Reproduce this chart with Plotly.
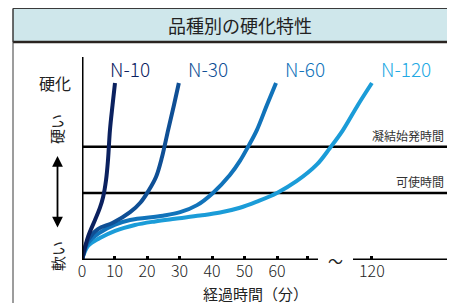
import plotly.graph_objects as go

# page window is 455x303; the browser body has an 8px margin, so the figure is 8px smaller
PAGE_W, PAGE_H, OFF = 455, 303, 8
W, H = PAGE_W - OFF, PAGE_H - OFF

# ---- data (x in axis units of the broken time axis; 120 min sits after the break) ----
n10_x = [0, 1.85, 4.0, 5.5, 6.5, 7.4, 8.0, 8.6, 9.4, 10.15]
n10_y = [0, 13, 22.6, 29.4, 35.6, 45.2, 56.5, 73.4, 87.6, 100]

n30_x = [0, 1.85, 4.9, 9.5, 14.8, 18.0, 20.6, 22.8, 24.6, 26.5, 28.3, 29.8]
n30_y = [0, 11.3, 17.5, 21.0, 27.0, 32.5, 39.5, 47.0, 58.0, 73.4, 87.6, 100]

n60_x = [0, 1.85, 5.5, 10.2, 14.8, 24.9, 30.2, 35.4, 40.3, 45.5, 48.6, 51.1, 53.8, 56.9, 59.7]
n60_y = [0, 9.6, 15.5, 20.0, 22.6, 25.0, 27.0, 31.0, 37.9, 48.0, 56.0, 64.0, 73.4, 87.6, 100]

n120_x = [0, 1.85, 5.5, 10.2, 16.3, 22.5, 28.6, 36.3, 42.5, 48.6, 53.8, 60.0, 66.0, 72.3, 76.3, 80.3, 84.9, 89.2]
n120_y = [0, 7.9, 12.4, 16.5, 19.8, 21.8, 23.3, 25.1, 26.8, 29.5, 33.0, 37.9, 44.5, 54.0, 63.3, 73.4, 87.6, 100]

series_names = ["N-10", "N-30", "N-60", "N-120"]
series_colors = ["#0b215f", "#0f4f95", "#1173ba", "#1b9cd8"]
label_colors = ["#0b215f", "#0f4f95", "#1173ba", "#22a9e4"]

tick_vals = [0, 10, 20, 30, 40, 50, 60, 69.5, 89.2]
tick_text = ["0", "10", "20", "30", "40", "50", "60", "", "120"]

pot_life = 37.9       # 可使時間
initial_set = 64.0    # 凝結始発時間

# ---- geometry helpers (page pixel coordinates) ----
X0_PX, X_SCALE = 82, 3.25     # px at 0, px per unit
Y0_PX, Y_SCALE = 260, 1.77
X_END_PX, Y_TOP_PX = 448, 57
x_max = (X_END_PX - X0_PX) / X_SCALE
y_max = (Y0_PX - Y_TOP_PX) / Y_SCALE
BREAK_L, BREAK_R = (318 - X0_PX) / X_SCALE, (353 - X0_PX) / X_SCALE
TILDE_X = (335 - X0_PX) / X_SCALE

def px(x):
    return (x - OFF) / W

def py(y):
    return 1 - (y - OFF) / H

fig = go.Figure()

for xs, ys, c in zip([n120_x, n60_x, n30_x, n10_x], [n120_y, n60_y, n30_y, n10_y], series_colors[::-1]):
    fig.add_trace(go.Scatter(x=xs, y=ys, mode="lines", line=dict(color=c, width=4, shape="spline", smoothing=1.0),
                             showlegend=False, hoverinfo="skip"))

shapes = []
# title bar
shapes.append(dict(type="rect", xref="paper", yref="paper", x0=px(13), x1=px(458), y0=py(42), y1=py(8.5),
                   fillcolor="#cfe7eb", line=dict(color="#3a3a3a", width=1), layer="below"))
shapes.append(dict(type="line", xref="paper", yref="paper", x0=px(13), x1=px(458), y0=py(42), y1=py(42),
                   line=dict(color="#2a2420", width=2.5)))
# left border
shapes.append(dict(type="line", xref="paper", yref="paper", x0=px(13), x1=px(13), y0=py(8.5), y1=0,
                   line=dict(color="#3a3a3a", width=1)))
# axes
shapes.append(dict(type="line", xref="x", yref="y", x0=0, x1=0, y0=0, y1=y_max, line=dict(color="black", width=3)))
shapes.append(dict(type="line", xref="x", yref="y", x0=-0.4, x1=BREAK_L, y0=0, y1=0, line=dict(color="black", width=3)))
shapes.append(dict(type="line", xref="x", yref="y", x0=BREAK_R, x1=x_max, y0=0, y1=0, line=dict(color="black", width=3)))
# reference lines
for lv in [pot_life, initial_set]:
    shapes.append(dict(type="line", xref="x", yref="y", x0=0, x1=x_max, y0=lv, y1=lv, line=dict(color="black", width=2.5),
                       layer="below"))

fig.update_layout(shapes=shapes)

jp = "Noto Sans CJK JP"
C = dict(xanchor="center", yanchor="middle", showarrow=False, xref="paper", yref="paper")
ann = []
ann.append(dict(text="品種別の硬化特性", x=px(240), y=py(25), font=dict(family=jp, size=18, color="#222"), **C))
for name, col, lx in zip(series_names, label_colors, [130, 208, 305, 406]):
    ann.append(dict(text=name, x=px(lx), y=py(68), font=dict(family=jp, size=19, color=col, weight=300), **C))
ann.append(dict(text="凝結始発時間", x=x_max - 0.5, y=initial_set, xref="x", yref="y", xanchor="right", yanchor="bottom",
                yshift=1, showarrow=False, font=dict(family=jp, size=12, color="#333")))
ann.append(dict(text="可使時間", x=x_max - 0.5, y=pot_life, xref="x", yref="y", xanchor="right", yanchor="bottom",
                yshift=1, showarrow=False, font=dict(family=jp, size=12, color="#333")))
ann.append(dict(text="硬化", x=px(55), y=py(83), font=dict(family=jp, size=16, color="#222"), **C))
ann.append(dict(text="硬い", x=px(57), y=py(129), textangle=-90, font=dict(family=jp, size=15, color="#222"), **C))
ann.append(dict(text="軟い", x=px(57), y=py(256), textangle=-90, font=dict(family=jp, size=15, color="#222"), **C))
ann.append(dict(text="", x=px(57.5), y=py(156), ax=0, ay=73, xref="paper", yref="paper",
                axref="pixel", ayref="pixel", showarrow=True, arrowhead=2, arrowside="end+start",
                arrowsize=1.2, arrowwidth=1.8, arrowcolor="black"))
ann.append(dict(text="～", x=TILDE_X, y=0, xref="x", yref="y", xanchor="center", yanchor="middle", showarrow=False,
                font=dict(family=jp, size=15, color="#222")))
ann.append(dict(text="経過時間（分）", x=px(255), y=py(293), font=dict(family=jp, size=15, color="#222"), **C))
fig.update_layout(annotations=ann)

fig.update_layout(
    width=W, height=H, margin=dict(l=0, r=0, t=0, b=0, autoexpand=False),
    paper_bgcolor="white", plot_bgcolor="white",
    xaxis=dict(domain=[px(X0_PX), px(X_END_PX)], range=[0, x_max], showgrid=False, zeroline=False, showline=False,
               tickmode="array", tickvals=tick_vals, ticktext=tick_text, ticks="inside", ticklen=4, tickwidth=3,
               tickcolor="black", tickfont=dict(family=jp, size=16, color="#222", weight=300)),
    yaxis=dict(domain=[py(Y0_PX), py(Y_TOP_PX)], range=[0, y_max], showgrid=False, zeroline=False,
               showline=False, showticklabels=False, ticks=""),
)

fig.write_html("out.html")
